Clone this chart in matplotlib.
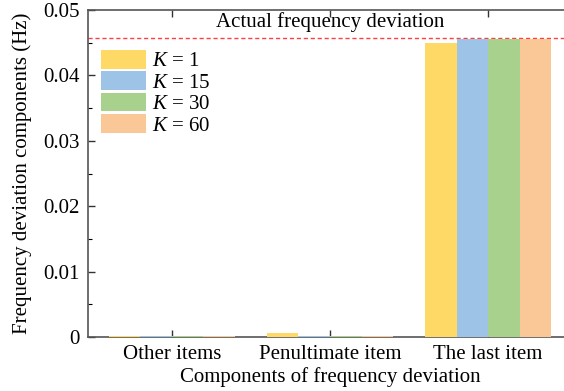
import matplotlib.pyplot as plt
import numpy as np

plt.rcParams['font.family'] = ['Liberation Serif', 'DejaVu Serif']
plt.rcParams['mathtext.fontset'] = 'custom'
plt.rcParams['mathtext.it'] = 'Liberation Serif:italic'
plt.rcParams['mathtext.rm'] = 'Liberation Serif'

# Frequency deviation components for each K
categories = ['Other items', 'Penultimate item', 'The last item']
k_values = [1, 15, 30, 60]
comp_k1 = [0.0001, 0.0006, 0.04494]
comp_k15 = [0.0001, 0.0001, 0.04562]
comp_k30 = [0.0001, 0.0001, 0.04562]
comp_k60 = [0.0001, 0.0001, 0.04562]
actual_deviation = 0.0457

colors = ['#FFD966', '#9DC3E6', '#A9D18E', '#FAC796']
series = [comp_k1, comp_k15, comp_k30, comp_k60]

fs = 15
fig = plt.figure(figsize=(5.64, 3.91), dpi=100)
ax = fig.add_axes([88 / 564, 54 / 391, 484 / 564, 327 / 391])

x = np.arange(len(categories))
width = 0.2
for i, (vals, k) in enumerate(zip(series, k_values)):
    ax.bar(x + (i - 1.5) * width, vals, width, color=colors[i],
           label=f'$K$ = {k}', zorder=3, clip_on=False)

ax.axhline(actual_deviation, color='#FF4040', linestyle=(0, (3, 2)), linewidth=1.0)
ax.text(1, actual_deviation + 0.0009, 'Actual frequency deviation',
        ha='center', va='bottom', fontsize=fs)

ax.set_xlim(-0.53, 2.53)
ax.set_ylim(0, 0.05)
ax.set_xticks(x)
ax.set_xticklabels(categories, fontsize=fs)
ax.set_yticks([0, 0.01, 0.02, 0.03, 0.04, 0.05])
ax.set_yticklabels(['0', '0.01', '0.02', '0.03', '0.04', '0.05'], fontsize=fs)
ax.set_yticks(np.arange(0.005, 0.05, 0.01), minor=True)
ax.tick_params(direction='in', top=True, right=True, length=5, width=1,
               color='#333333', pad=6)
ax.tick_params(which='minor', direction='in', right=True, length=3, width=0.8)
for s in ax.spines.values():
    s.set_color('#555555')
    s.set_linewidth(1.2)

ax.set_xlabel('Components of frequency deviation', fontsize=fs, labelpad=2)
ax.set_ylabel('Frequency deviation components (Hz)', fontsize=fs, labelpad=8)

ax.legend(loc='upper left', bbox_to_anchor=(13 / 484, 0.878), frameon=False,
          fontsize=fs, handlelength=2.15, handleheight=1.0, labelspacing=0.0,
          handletextpad=0.3, borderaxespad=0, borderpad=0)

fig.savefig('out.png', dpi=100)
